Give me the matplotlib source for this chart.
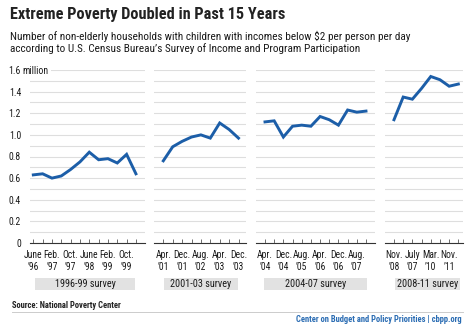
import numpy as np
import matplotlib
matplotlib.use("Agg")
import matplotlib.pyplot as plt
from matplotlib import font_manager as fm
from matplotlib.patches import Rectangle

# ---- data ----
surveys = ['1996-99 survey', '2001-03 survey', '2004-07 survey', '2008-11 survey']

vals_9699 = [0.63, 0.64, 0.60, 0.62, 0.68, 0.75, 0.84, 0.77, 0.78, 0.74, 0.82, 0.64]
vals_0103 = [0.76, 0.89, 0.94, 0.98, 1.00, 0.97, 1.11, 1.05, 0.97]
vals_0407 = [1.12, 1.13, 0.98, 1.08, 1.09, 1.08, 1.17, 1.14, 1.09, 1.23, 1.21, 1.22]
vals_0811 = [1.14, 1.35, 1.33, 1.43, 1.54, 1.51, 1.45, 1.47]

labels_9699 = ["June\n’96", "Feb.\n’97", "Oct.\n’97", "June\n’98", "Feb.\n’99", "Oct.\n’99"]
labels_0103 = ["Apr.\n’01", "Dec.\n’01", "Aug.\n’02", "Apr.\n’03", "Dec.\n’03"]
labels_0407 = ["Apr.\n’04", "Dec.\n’04", "Aug.\n’05", "Apr.\n’06", "Dec.\n’06", "Aug.\n’07"]
labels_0811 = ["Nov.\n’08", "July\n’07", "Mar.\n’10", "Nov.\n’11"]
ylabels = ['0', '0.2', '0.4', '0.6', '0.8', '1.0', '1.2', '1.4', '1.6']

series = [vals_9699, vals_0103, vals_0407, vals_0811]
xlabels = [labels_9699, labels_0103, labels_0407, labels_0811]

# --- pick the narrowest font around (reference uses a condensed face) ---
fonts = fm.fontManager.ttflist
names = {f.name for f in fonts}
family, stretch = None, 'normal'
for cand in ['Liberation Sans Narrow', 'Roboto Condensed', 'Open Sans Condensed',
             'Noto Sans Condensed', 'DejaVu Sans Condensed']:
    if cand in names:
        family = cand
        break
if family is None:
    for base in ['Noto Sans', 'Open Sans', 'Roboto', 'DejaVu Sans']:
        if any(f.name == base and 'condensed' in str(f.stretch) for f in fonts):
            family, stretch = base, 'condensed'
            break
if family is None:
    family = 'Roboto' if 'Roboto' in names else 'Liberation Sans'
plt.rcParams['font.family'] = [family, 'DejaVu Sans']
plt.rcParams['font.stretch'] = stretch

BLUE = '#1c5ea8'
W, H = 465, 327

def fx(px):
    return px / W

def fy(py):
    return 1 - py / H

fig = plt.figure(figsize=(4.65, 3.27), dpi=100)
fig.patch.set_facecolor('white')
rend = fig.canvas.get_renderer()

def size_for(s, target, weight='normal', cap=None):
    t = fig.text(0, 0, s, fontsize=10, fontweight=weight)
    w = t.get_window_extent(rend).width
    t.remove()
    fs = 10 * target / w
    if cap is not None:
        fs = min(fs, cap)
    return fs

fs_tick = 6.9
fs_y = 7.0
fs_box = 7.3

# panel pixel extents: (axis left, axis right, first point x, spacing)
panels = [(30, 145, 33.3, 9.33), (154, 246, 163.3, 9.4),
          (256, 375, 265, 9.18), (385, 463, 394, 9.19)]
boxes = [(35, 135), (164, 238), (264, 367), (395, 460)]

y_top, y_bot = 70, 243

for i, (vals, labs) in enumerate(zip(series, xlabels)):
    l, r, x0, dx = panels[i]
    ax = fig.add_axes([fx(l), fy(y_bot), fx(r) - fx(l), fy(y_top) - fy(y_bot)])
    n = len(vals)
    x = np.arange(n)
    ax.plot(x, vals, color=BLUE, lw=2.1, solid_joinstyle='miter', zorder=3)
    ax.set_xlim((l - x0) / dx, (r - x0) / dx)
    ax.set_ylim(0, 1.6)
    ax.set_yticks(np.arange(0, 1.61, 0.2))
    ax.set_yticks(np.arange(0.1, 1.6, 0.2), minor=True)
    ax.grid(axis='y', which='both', color='#dedede', lw=0.8, zorder=0)
    for s in ['top', 'right', 'left']:
        ax.spines[s].set_visible(False)
    ax.spines['bottom'].set_color('#333333')
    ax.spines['bottom'].set_linewidth(0.8)
    ax.set_xticks(x)
    ticklabs = ['' for _ in x]
    for k, lab in enumerate(labs):
        ticklabs[2 * k] = lab
    ax.set_xticklabels(ticklabs, fontsize=fs_tick, color='#1a1a1a', linespacing=1.2)
    ax.tick_params(axis='x', direction='in', length=3, width=0.6, color='#555555', pad=5)
    ax.tick_params(axis='y', which='both', length=0)
    if i == 0:
        ax.set_yticklabels(ylabels, fontsize=fs_y, color='#1a1a1a')
        ax.tick_params(axis='y', pad=6.5)
        ax.text(fx(22.5), fy(71), 'million', transform=fig.transFigure, fontsize=fs_y,
                color='#1a1a1a', va='center', ha='left',
                bbox=dict(facecolor='white', edgecolor='none', pad=1.5), zorder=5)
    else:
        ax.set_yticklabels([])
    ax.set_facecolor('none')

    bl, br = boxes[i]
    fig.patches.append(Rectangle((fx(bl), fy(290)), fx(br) - fx(bl), fy(278) - fy(290),
                                 transform=fig.transFigure, facecolor='#e2e2e2',
                                 edgecolor='none'))
    fig.text(fx((bl + br) / 2), fy(284), surveys[i], fontsize=fs_box, color='#1a1a1a',
             ha='center', va='center')

title = 'Extreme Poverty Doubled in Past 15 Years'
sub1 = 'Number of non-elderly households with children with incomes below $2 per person per day'
sub2 = 'according to U.S. Census Bureau’s Survey of Income and Program Participation'
source = 'Source: National Poverty Center'
credit = 'Center on Budget and Policy Priorities | cbpp.org'

fs_title = size_for(title, 275, weight='bold', cap=12)
fs_sub = size_for(sub1, 412, cap=8.1)
fs_src = size_for(source, 110, weight='bold', cap=6.5)
fs_cred = size_for(credit, 167, weight='bold', cap=6.5)

fig.text(fx(10), fy(14), title, fontsize=fs_title,
         fontweight='bold', color='#222222', va='center', ha='left')
fig.text(fx(10), fy(36.5), sub1, fontsize=fs_sub, color='#1a1a1a', va='center', ha='left')
fig.text(fx(10), fy(49), sub2, fontsize=fs_sub, color='#1a1a1a', va='center', ha='left')

fig.text(fx(12), fy(305), source, fontsize=fs_src,
         fontweight='bold', color='#222222', va='center', ha='left')
fig.add_artist(plt.Line2D([fx(12), fx(463)], [fy(312), fy(312)], color='#cccccc',
                          lw=0.7, transform=fig.transFigure))
fig.text(fx(462), fy(320), credit, fontsize=fs_cred,
         fontweight='bold', color='#2a6cb3', va='center', ha='right')

fig.savefig('out.png', dpi=100, facecolor='white')
